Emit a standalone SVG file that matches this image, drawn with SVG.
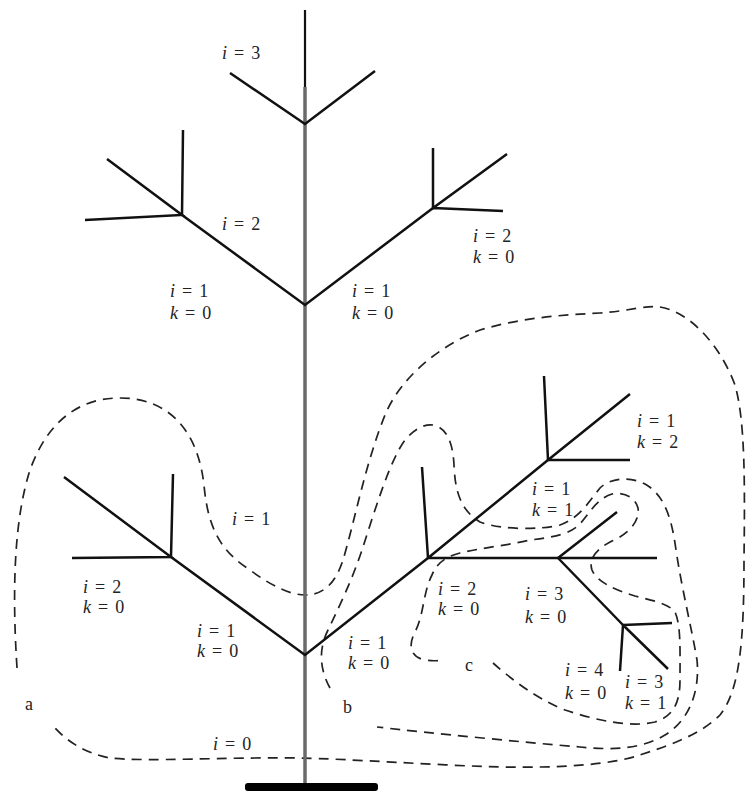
<svg xmlns="http://www.w3.org/2000/svg" width="747" height="792" viewBox="0 0 747 792">
<style>
.br{stroke:#111;stroke-width:2.5;fill:none;stroke-linecap:butt}
.trunk{stroke:#6a6a6a;stroke-width:3.5;fill:none}
.dash{stroke:#222;stroke-width:1.7;fill:none;stroke-dasharray:10 7}
.t{font-family:"Liberation Serif","Times New Roman",serif;font-size:18px;fill:#222;word-spacing:2.5px}
.it{font-style:italic}
</style>
<rect width="747" height="792" fill="#fff"/>
<g id="regions">
<path id="region-a" class="dash" d="M 17,668 C 12,590 14,520 30,470 C 48,420 80,398 120,398 C 170,398 198,432 204,485 C 208,530 222,552 250,570 C 270,585 290,595 305,595 C 322,595 335,585 343,560 C 355,520 365,465 385,415 C 400,378 440,345 480,330 C 520,318 560,315 600,313 C 630,311 645,305 660,307 C 690,312 720,345 735,385 C 745,420 745,480 744,560 C 744,640 740,690 720,715 C 700,735 670,745 640,755 C 610,765 560,768 500,767 C 430,765 350,759 300,758 C 220,757 150,762 110,758 C 85,753 68,742 55,728"/>
<path id="region-b" class="dash" d="M 330,688 C 320,670 318,650 328,630 C 340,605 352,580 362,550 C 375,510 390,460 405,440 C 415,428 425,424 433,425 C 448,428 453,445 454,465 C 455,490 460,510 480,522 C 500,530 540,530 560,525 C 580,518 590,500 600,488 C 610,478 630,476 645,484 C 665,495 672,520 676,550 C 682,590 692,630 697,660 C 700,690 690,720 665,735 C 640,750 610,750 580,747 C 520,742 430,733 377,727"/>
<path id="region-c" class="dash" d="M 493,663 C 510,678 535,698 565,710 C 595,720 630,728 655,722 C 675,716 680,700 680,680 C 680,650 681,625 675,612 C 668,603 650,600 635,596 C 615,590 597,582 592,570 C 588,558 598,548 612,541 C 628,534 640,522 638,508 C 635,496 622,492 612,494 C 598,498 590,512 580,524 C 570,534 555,537 530,540 C 510,545 480,548 460,553 C 445,557 437,563 432,575 C 423,592 424,615 415,632 C 408,645 410,657 425,660 C 432,661 437,661 441,660"/>
</g>
<g id="tree">
<g id="trunk">
<line x1="305" y1="10" x2="305" y2="87" stroke="#111" stroke-width="2.2"/>
<line class="trunk" x1="305" y1="87" x2="305" y2="786"/>
<rect x="245" y="783" width="133" height="8" rx="3" fill="#000"/>
</g>
<g id="node-top">
<path class="br" d="M 230,73 L 305,124 L 375,71"/>
</g>
<g id="node-mid">
<path class="br" d="M 182,215 L 305,305 L 433,208"/>
</g>
<g id="node-mid-left">
<path class="br" d="M 183,130 L 182,215 M 107,159 L 182,215 L 85,220"/>
</g>
<g id="node-mid-right">
<path class="br" d="M 433,148 L 433,208 L 507,154 M 433,208 L 503,211"/>
</g>
<g id="node-low">
<path class="br" d="M 171,557 L 305,655 L 428,558"/>
</g>
<g id="node-low-left">
<path class="br" d="M 173,474 L 171,557 M 64,477 L 171,557 L 72,558"/>
</g>
<g id="node-b1">
<path class="br" d="M 428,558 L 548,460 M 422,467 L 428,558 L 657,558"/>
</g>
<g id="node-b2">
<path class="br" d="M 548,460 L 630,394 M 544,376 L 548,460 L 630,460"/>
</g>
<g id="node-b3">
<path class="br" d="M 558,558 L 617,512 M 558,558 L 623,625"/>
</g>
<g id="node-b4">
<path class="br" d="M 623,625 L 668,669 M 623,625 L 672,623 M 623,625 L 620,671"/>
</g>
</g>
<g id="labels">
<text class="t" x="222" y="59"><tspan class="it">i</tspan> = 3</text>
<text class="t" x="222" y="230"><tspan class="it">i</tspan> = 2</text>
<text class="t" x="170" y="297"><tspan class="it">i</tspan> = 1</text>
<text class="t" x="170" y="319"><tspan class="it">k</tspan> = 0</text>
<text class="t" x="352" y="297"><tspan class="it">i</tspan> = 1</text>
<text class="t" x="352" y="319"><tspan class="it">k</tspan> = 0</text>
<text class="t" x="473" y="242"><tspan class="it">i</tspan> = 2</text>
<text class="t" x="473" y="263"><tspan class="it">k</tspan> = 0</text>
<text class="t" x="232" y="525"><tspan class="it">i</tspan> = 1</text>
<text class="t" x="83" y="593"><tspan class="it">i</tspan> = 2</text>
<text class="t" x="83" y="613"><tspan class="it">k</tspan> = 0</text>
<text class="t" x="197" y="637"><tspan class="it">i</tspan> = 1</text>
<text class="t" x="197" y="657"><tspan class="it">k</tspan> = 0</text>
<text class="t" x="25" y="710">a</text>
<text class="t" x="343" y="713">b</text>
<text class="t" x="213" y="750"><tspan class="it">i</tspan> = 0</text>
<text class="t" x="348" y="649"><tspan class="it">i</tspan> = 1</text>
<text class="t" x="348" y="669"><tspan class="it">k</tspan> = 0</text>
<text class="t" x="637" y="427"><tspan class="it">i</tspan> = 1</text>
<text class="t" x="637" y="448"><tspan class="it">k</tspan> = 2</text>
<text class="t" x="532" y="495"><tspan class="it">i</tspan> = 1</text>
<text class="t" x="532" y="516"><tspan class="it">k</tspan> = 1</text>
<text class="t" x="438" y="595"><tspan class="it">i</tspan> = 2</text>
<text class="t" x="438" y="615"><tspan class="it">k</tspan> = 0</text>
<text class="t" x="525" y="600"><tspan class="it">i</tspan> = 3</text>
<text class="t" x="525" y="623"><tspan class="it">k</tspan> = 0</text>
<text class="t" x="465" y="671">c</text>
<text class="t" x="565" y="676"><tspan class="it">i</tspan> = 4</text>
<text class="t" x="565" y="699"><tspan class="it">k</tspan> = 0</text>
<text class="t" x="625" y="688"><tspan class="it">i</tspan> = 3</text>
<text class="t" x="625" y="709"><tspan class="it">k</tspan> = 1</text>
</g>
</svg>
